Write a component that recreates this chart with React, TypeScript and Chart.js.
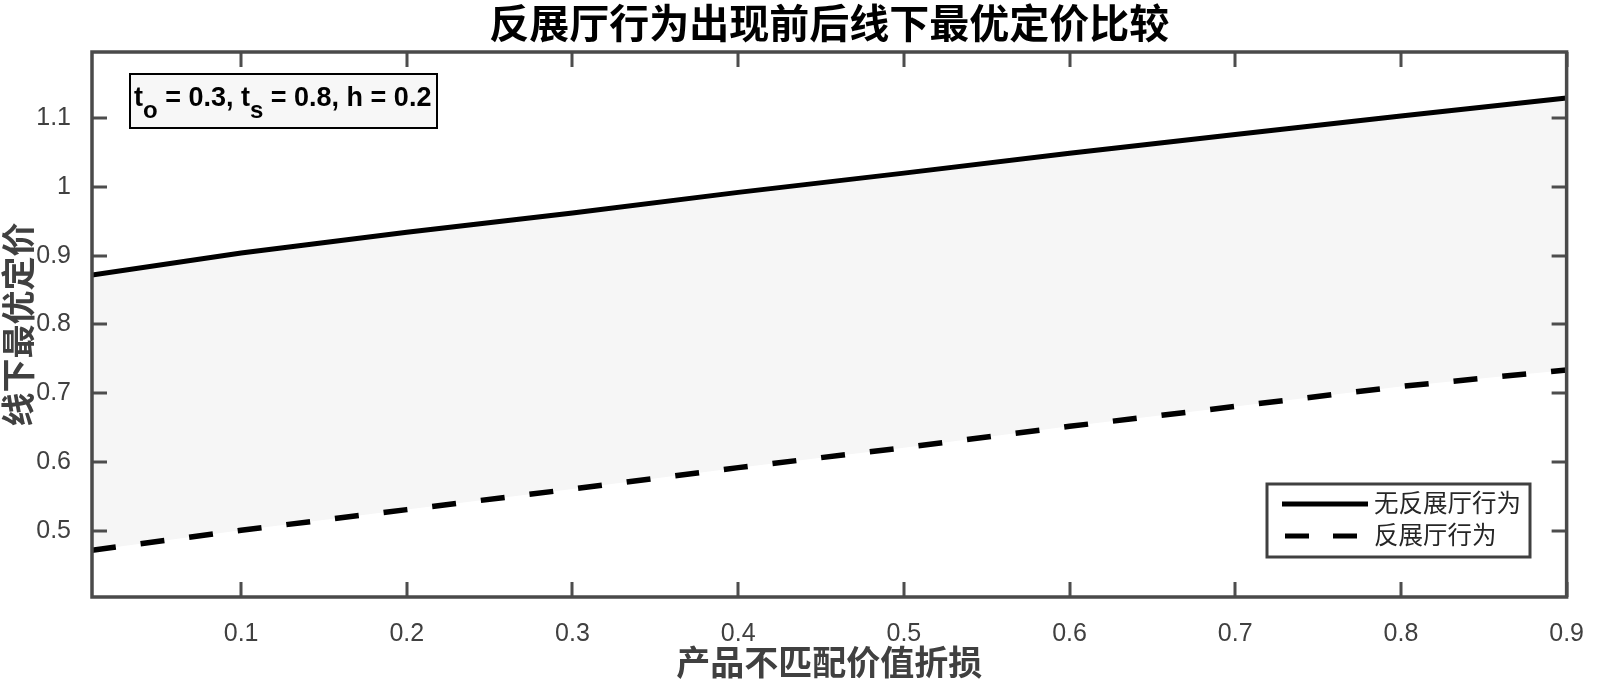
import React, { useEffect, useRef } from "react";
import { Chart, registerables } from "chart.js";

Chart.register(...registerables);

const titleText = "反展厅行为出现前后线下最优定价比较";
const xAxisLabel = "产品不匹配价值折损";
const yAxisLabel = "线下最优定价";
const seriesNames = ["无反展厅行为", "反展厅行为"];
const xValues = [0.01, 0.1, 0.2, 0.3, 0.4, 0.5, 0.6, 0.7, 0.8, 0.9];
const noShowroomingPrice = [0.872, 0.904, 0.934, 0.962, 0.992, 1.02, 1.049, 1.076, 1.103, 1.129];
const showroomingPrice = [0.472, 0.501, 0.531, 0.561, 0.592, 0.621, 0.652, 0.681, 0.71, 0.734];
const xTicks = [0.1, 0.2, 0.3, 0.4, 0.5, 0.6, 0.7, 0.8, 0.9];
const yTicks = [0.5, 0.6, 0.7, 0.8, 0.9, 1, 1.1];
const xRange = [0.01, 0.9];
const yRange = [0.404, 1.196];

const CJK = '"Noto Sans CJK SC", sans-serif';
const LAT = '"Liberation Sans", Arial, sans-serif';

const overlayPlugin = {
  id: "overlay",
  afterDraw(chart: any) {
    const ctx = chart.ctx as CanvasRenderingContext2D;
    const { left, right, top, bottom } = chart.chartArea;
    const xs = chart.scales.x;
    const ys = chart.scales.y;
    ctx.save();
    // inward ticks on all four sides
    ctx.strokeStyle = "#4d4d4d";
    ctx.lineWidth = 3;
    const tl = 15;
    xTicks.forEach((v) => {
      const px = Math.round(xs.getPixelForValue(v));
      ctx.beginPath();
      ctx.moveTo(px, bottom);
      ctx.lineTo(px, bottom - tl);
      ctx.moveTo(px, top);
      ctx.lineTo(px, top + tl);
      ctx.stroke();
    });
    yTicks.forEach((v) => {
      const py = Math.round(ys.getPixelForValue(v));
      ctx.beginPath();
      ctx.moveTo(left, py);
      ctx.lineTo(left + tl, py);
      ctx.moveTo(right, py);
      ctx.lineTo(right - tl, py);
      ctx.stroke();
    });
    // axes box
    ctx.lineWidth = 3.5;
    ctx.strokeStyle = "#4a4a4a";
    ctx.strokeRect(left, top, right - left, bottom - top);

    // title
    ctx.fillStyle = "#000";
    ctx.font = `bold 40px ${CJK}`;
    ctx.textAlign = "center";
    ctx.textBaseline = "middle";
    ctx.fillText(titleText, (left + right) / 2, 23);

    // axis labels
    ctx.fillStyle = "#404040";
    ctx.font = `bold 34px ${CJK}`;
    ctx.fillText(xAxisLabel, (left + right) / 2, 662);
    ctx.save();
    ctx.translate(18, (top + bottom) / 2);
    ctx.rotate(-Math.PI / 2);
    ctx.fillText(yAxisLabel, 0, 0);
    ctx.restore();

    // annotation box
    const bx = 130, by = 74, bw = 307, bh = 54;
    ctx.fillStyle = "#f7f7f7";
    ctx.fillRect(bx, by, bw, bh);
    ctx.strokeStyle = "#000";
    ctx.lineWidth = 2;
    ctx.strokeRect(bx, by, bw, bh);
    const parts: [string, boolean][] = [
      ["t", false], ["o", true], [" = 0.3, t", false], ["s", true], [" = 0.8, h = 0.2", false],
    ];
    let tx = 134;
    const base = 106;
    ctx.textAlign = "left";
    ctx.textBaseline = "alphabetic";
    ctx.fillStyle = "#000";
    parts.forEach(([s, sub]) => {
      ctx.font = sub ? `bold 24px ${LAT}` : `bold 27px ${LAT}`;
      ctx.fillText(s, tx, sub ? base + 12 : base);
      tx += ctx.measureText(s).width;
    });

    // legend
    const lx = 1267, ly = 484, lw = 263, lh = 73;
    ctx.fillStyle = "#fff";
    ctx.fillRect(lx, ly, lw, lh);
    ctx.strokeStyle = "#404040";
    ctx.lineWidth = 3;
    ctx.strokeRect(lx, ly, lw, lh);
    ctx.strokeStyle = "#000";
    ctx.lineWidth = 5;
    ctx.lineCap = "butt";
    ctx.beginPath();
    ctx.moveTo(1282, 504);
    ctx.lineTo(1368, 504);
    ctx.stroke();
    ctx.setLineDash([24, 24]);
    ctx.beginPath();
    ctx.moveTo(1285, 536);
    ctx.lineTo(1358, 536);
    ctx.stroke();
    ctx.setLineDash([]);
    ctx.fillStyle = "#262626";
    ctx.font = `24.5px ${CJK}`;
    ctx.textBaseline = "middle";
    ctx.fillText(seriesNames[0], 1374, 503);
    ctx.fillText(seriesNames[1], 1374, 535);
    ctx.restore();
  },
};

export default function App() {
  const ref = useRef<HTMLCanvasElement | null>(null);
  useEffect(() => {
    document.body.style.margin = "0";
    const canvas = ref.current!;
    const chart = new Chart(canvas, {
      type: "line",
      data: {
        datasets: [
          {
            label: seriesNames[0],
            data: xValues.map((x, i) => ({ x, y: noShowroomingPrice[i] })),
            borderColor: "#000",
            borderWidth: 5,
            pointRadius: 0,
            fill: "+1",
            backgroundColor: "#f6f6f6",
            tension: 0,
          },
          {
            label: seriesNames[1],
            data: xValues.map((x, i) => ({ x, y: showroomingPrice[i] })),
            borderColor: "#000",
            borderWidth: 5.5,
            borderDash: [24, 25],
            borderCapStyle: "butt",
            pointRadius: 0,
            fill: false,
            tension: 0,
          },
        ],
      },
      options: {
        responsive: false,
        animation: false,
        devicePixelRatio: 1,
        layout: { padding: { top: 52, right: 17, left: 0, bottom: 0 } },
        plugins: {
          legend: { display: false },
          title: { display: false },
          tooltip: { enabled: false },
          filler: { drawTime: "beforeDatasetsDraw" },
        },
        scales: {
          x: {
            type: "linear",
            min: xRange[0],
            max: xRange[1],
            grid: { display: false },
            border: { display: false },
            afterBuildTicks: (s: any) => {
              s.ticks = xTicks.map((v) => ({ value: v }));
            },
            afterFit: (s: any) => {
              s.height = 83;
            },
            ticks: {
              padding: 14,
              color: "#404040",
              font: { family: LAT, size: 25 },
              maxRotation: 0,
              callback: (v: any) => String(Math.round(Number(v) * 100) / 100),
            },
          },
          y: {
            type: "linear",
            min: yRange[0],
            max: yRange[1],
            grid: { display: false },
            border: { display: false },
            afterBuildTicks: (s: any) => {
              s.ticks = yTicks.map((v) => ({ value: v }));
            },
            afterFit: (s: any) => {
              s.width = 92;
            },
            ticks: {
              padding: 13,
              color: "#404040",
              font: { family: LAT, size: 25 },
              callback: (v: any) => String(Math.round(Number(v) * 100) / 100),
            },
          },
        },
      },
      plugins: [overlayPlugin],
    } as any);
    return () => chart.destroy();
  }, []);
  return <canvas ref={ref} width={1598} height={680} style={{ display: "block" }} />;
}
